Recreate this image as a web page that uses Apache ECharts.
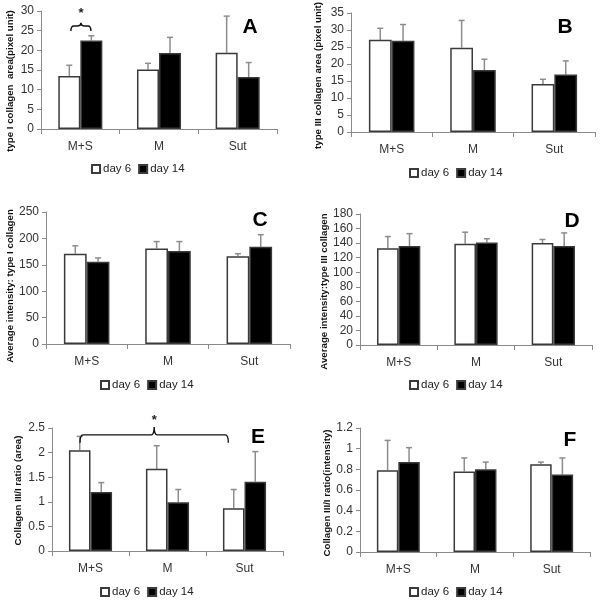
<!DOCTYPE html>
<html>
<head>
<meta charset="utf-8">
<script src="https://cdn.jsdelivr.net/npm/echarts@6/dist/echarts.min.js"></script>
<style>html,body{margin:0;padding:0;background:#fff}#c{width:600px;height:600px}</style>
</head>
<body>
<div id="c"></div>
<script>
// ---- data ----
const categories = ['M+S', 'M', 'Sut'];
const seriesNames = ['day 6', 'day 14'];

const A_day6 = [13.5, 15.1, 19.4];
const A_day14 = [22.5, 19.3, 13.2];
const A_err6 = [2.7, 1.6, 9.3];
const A_err14 = [1.2, 4.0, 3.7];

const B_day6 = [27.1, 24.8, 14.1];
const B_day14 = [26.8, 18.2, 16.9];
const B_err6 = [3.4, 8.0, 1.4];
const B_err14 = [4.8, 3.2, 4.0];

const C_day6 = [171, 181, 166];
const C_day14 = [156, 176, 184];
const C_err6 = [15, 13, 5];
const C_err14 = [7, 18, 23];

const D_day6 = [133, 139, 140];
const D_day14 = [136, 141, 136];
const D_err6 = [16, 16, 5];
const D_err14 = [17, 5, 18];

const E_day6 = [2.05, 1.67, 0.87];
const E_day14 = [1.20, 0.99, 1.41];
const E_err6 = [0.28, 0.47, 0.38];
const E_err14 = [0.19, 0.26, 0.61];

const F_day6 = [0.79, 0.78, 0.85];
const F_day14 = [0.87, 0.80, 0.75];
const F_err6 = [0.29, 0.13, 0.02];
const F_err14 = [0.14, 0.07, 0.16];

const yTitles = [
  'type I collagen  area(pixel unit)',
  'type III collagen area (pixel unit)',
  'Average intensity: type I collagen',
  'Average intensity:type III collagen',
  'Collagen III/I ratio (area)',
  'Collagen III/I ratio(intensity)'
];
const yMax = [30, 35, 250, 180, 2.5, 1.2];
const yInterval = [5, 5, 50, 20, 0.5, 0.2];
const panelLetters = ['A', 'B', 'C', 'D', 'E', 'F'];

// significance brackets: [category, offset (band fraction)] for left/right ends, line level, end level, peak level, star level
const bracketA = { panel: 0, left: [0, -0.12], right: [0, 0.135], line: 26.2, end: 24.9, peak: 27.0, star: 29.4 };
const bracketE = { panel: 4, left: [0, -0.136], right: [2, -0.21], line: 2.36, end: 2.2, peak: 2.52, star: 2.66 };

// ---- layout ----
const grids = [
  { left: 41, top: 11, width: 236, height: 118 },
  { left: 351, top: 8, width: 244, height: 124 },
  { left: 46, top: 212, width: 244, height: 132 },
  { left: 360, top: 214, width: 232, height: 131 },
  { left: 52, top: 428, width: 231, height: 123 },
  { left: 360, top: 428, width: 230, height: 124 }
];
const legendPos = [[138, 169], [456, 173], [147, 385], [456, 385], [147, 592], [456, 592]];
const letterPos = [[250, 27], [565, 27], [260, 220], [572, 221], [258, 437], [570, 440]];
const nameGaps = [26, 28, 29, 26, 29, 26];
const nameShift = [22, 6, 16, 24, 2, 6];

const panels = [
  [A_day6, A_day14, A_err6, A_err14],
  [B_day6, B_day14, B_err6, B_err14],
  [C_day6, C_day14, C_err6, C_err14],
  [D_day6, D_day14, D_err6, D_err14],
  [E_day6, E_day14, E_err6, E_err14],
  [F_day6, F_day14, F_err6, F_err14]
];

const FONT = '"Liberation Sans", Arial, sans-serif';
const BAR_FRAC = 0.28;
const axisGray = '#8a8a8a';
const LEGEND_W = 94;

const option = {
  animation: false,
  backgroundColor: '#fff',
  textStyle: { fontFamily: FONT },
  grid: grids.map(g => Object.assign({ containLabel: false }, g)),
  xAxis: grids.map((g, i) => ({
    type: 'category', gridIndex: i, data: categories,
    axisLine: { lineStyle: { color: axisGray, width: 1 } },
    axisTick: { show: true, length: 5, lineStyle: { color: axisGray } },
    axisLabel: { color: '#333', fontSize: 12, margin: 12, fontFamily: FONT }
  })),
  yAxis: grids.map((g, i) => ({
    type: 'value', gridIndex: i, min: 0, max: yMax[i], interval: yInterval[i],
    name: yTitles[i], nameLocation: 'middle', nameGap: nameGaps[i],
    nameTextStyle: { color: '#111', fontSize: 9.7, fontWeight: 'bold', fontFamily: FONT, padding: [0, nameShift[i], 0, 0] },
    axisLine: { show: true, lineStyle: { color: axisGray, width: 1 } },
    axisTick: { show: true, length: 4, lineStyle: { color: axisGray } },
    axisLabel: { color: '#333', fontSize: 12, margin: 7, fontFamily: FONT },
    splitLine: { show: false }
  })),
  legend: legendPos.map(p => ({
    data: seriesNames, left: p[0] - LEGEND_W / 2, top: p[1] - 6, padding: 0,
    itemWidth: 8, itemHeight: 8, itemGap: 7, icon: 'rect',
    textStyle: { color: '#222', fontSize: 11.5, fontFamily: FONT, padding: [0, 0, 0, -2] },
    selectedMode: false
  })),
  graphic: letterPos.map((p, i) => ({
    type: 'text', x: p[0], y: p[1],
    style: { text: panelLetters[i], font: 'bold 21px "Liberation Sans", Arial, sans-serif', fill: '#000', align: 'center', verticalAlign: 'middle' }
  })),
  series: []
};

function errRender(params, api) {
  const cat = api.value(0), val = api.value(1), err = api.value(2), side = api.value(3);
  const band = api.size([1, 0])[0];
  const bw = band * BAR_FRAC;
  const cx = api.coord([cat, 0])[0] + (side ? bw / 2 : -bw / 2);
  const yTop = api.coord([cat, val + err])[1];
  const yBase = api.coord([cat, val])[1];
  return {
    type: 'group',
    children: [
      { type: 'line', shape: { x1: cx, y1: yBase, x2: cx, y2: yTop }, style: { stroke: '#8c8c8c', lineWidth: 1.5 } },
      { type: 'line', shape: { x1: cx - 3, y1: yTop, x2: cx + 3, y2: yTop }, style: { stroke: '#8c8c8c', lineWidth: 1.5 } }
    ]
  };
}

function bracketRender(b) {
  return function (params, api) {
    const band = api.size([1, 0])[0];
    const x1 = api.coord([b.left[0], 0])[0] + b.left[1] * band;
    const x2 = api.coord([b.right[0], 0])[0] + b.right[1] * band;
    const xc = (x1 + x2) / 2;
    const yl = api.coord([0, b.line])[1];
    const ye = api.coord([0, b.end])[1];
    const yp = api.coord([0, b.peak])[1];
    const ys = api.coord([0, b.star])[1];
    const r = 3;
    const path = `M${x1},${ye} Q${x1},${yl} ${x1 + r},${yl} L${xc - r},${yl} Q${xc},${yl} ${xc},${yp} Q${xc},${yl} ${xc + r},${yl} L${x2 - r},${yl} Q${x2},${yl} ${x2},${ye}`;
    return {
      type: 'group',
      children: [
        { type: 'path', shape: { pathData: path }, style: { stroke: '#111', lineWidth: 1.4, fill: null } },
        { type: 'text', x: xc, y: ys, style: { text: '*', font: 'bold 13px "Liberation Sans", Arial, sans-serif', fill: '#222', align: 'center', verticalAlign: 'middle' } }
      ]
    };
  };
}

panels.forEach((p, i) => {
  option.series.push({
    name: 'day 6', type: 'bar', xAxisIndex: i, yAxisIndex: i, data: p[0],
    barWidth: (BAR_FRAC * 100) + '%', barGap: '0%',
    itemStyle: { color: '#fff', borderColor: '#3a3a3a', borderWidth: 1.5 }
  });
  option.series.push({
    name: 'day 14', type: 'bar', xAxisIndex: i, yAxisIndex: i, data: p[1],
    barWidth: (BAR_FRAC * 100) + '%', barGap: '0%',
    itemStyle: { color: '#000', borderColor: '#3a3a3a', borderWidth: 1.5 }
  });
  const errData = [];
  categories.forEach((c, k) => {
    errData.push([k, p[0][k], p[2][k], 0]);
    errData.push([k, p[1][k], p[3][k], 1]);
  });
  option.series.push({
    type: 'custom', xAxisIndex: i, yAxisIndex: i, data: errData,
    renderItem: errRender, z: 1, clip: false, silent: true
  });
});

[bracketA, bracketE].forEach(b => {
  option.series.push({
    type: 'custom', xAxisIndex: b.panel, yAxisIndex: b.panel, data: [[0, b.line]],
    renderItem: bracketRender(b), clip: false, silent: true, z: 5
  });
});

const chart = echarts.init(document.getElementById('c'), null, { renderer: 'canvas' });
chart.setOption(option);
</script>
</body>
</html>
